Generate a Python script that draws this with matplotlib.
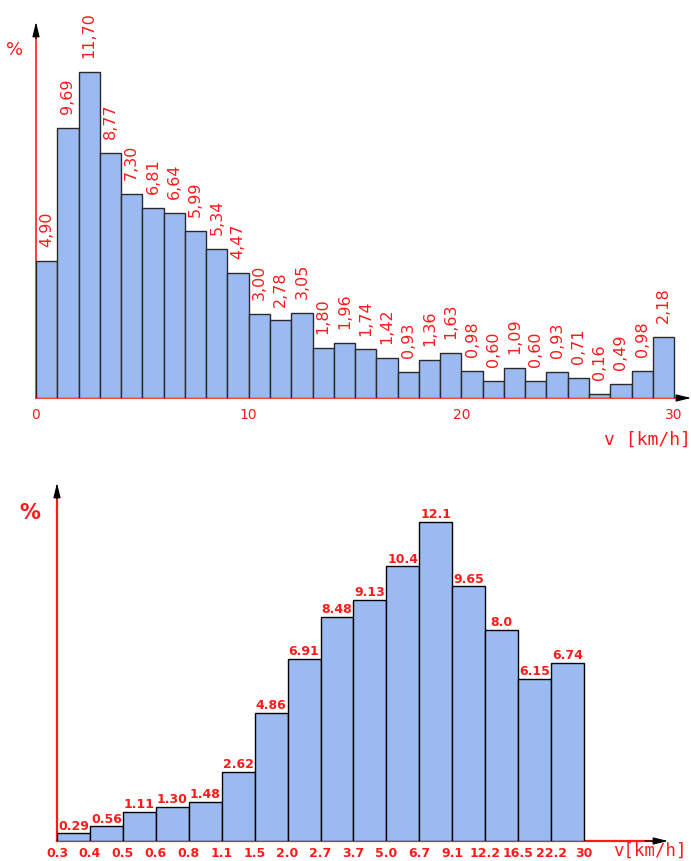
import matplotlib
matplotlib.use("Agg")
import matplotlib.pyplot as plt

# top histogram: 1 km/h bins from 0 to 30
top_edges = list(range(0, 31))
top_values = [4.90, 9.69, 11.70, 8.77, 7.30, 6.81, 6.64, 5.99, 5.34, 4.47,
              3.00, 2.78, 3.05, 1.80, 1.96, 1.74, 1.42, 0.93, 1.36, 1.63,
              0.98, 0.60, 1.09, 0.60, 0.93, 0.71, 0.16, 0.49, 0.98, 2.18]
top_ticks = [0, 10, 20, 30]

# bottom histogram: log-like classes, drawn with equal widths
bottom_edges = ["0.3", "0.4", "0.5", "0.6", "0.8", "1.1", "1.5", "2.0", "2.7",
                "3.7", "5.0", "6.7", "9.1", "12.2", "16.5", "22.2", "30"]
bottom_labels = ["0.29", "0.56", "1.11", "1.30", "1.48", "2.62", "4.86", "6.91",
                 "8.48", "9.13", "10.4", "12.1", "9.65", "8.0", "6.15", "6.74"]
bottom_values = [float(s) for s in bottom_labels]

BAR = "#9cbaf2"
RED = "#ff1a1a"
W, H = 691, 861

fig = plt.figure(figsize=(W / 100, H / 100), dpi=100)
fig.patch.set_facecolor("white")


def px_axes(left, top, right, bottom):
    """axes from pixel box (origin top-left)"""
    return fig.add_axes([left / W, (H - bottom) / H, (right - left) / W, (bottom - top) / H])


def arrow_head(ax, x0, y0, x1, y1):
    ax.annotate("", xy=(x1, y1), xytext=(x0, y0),
                arrowprops=dict(arrowstyle="-|>,head_length=0.9,head_width=0.22",
                                color="black", lw=0.8, shrinkA=0, shrinkB=0),
                annotation_clip=False)


# ---------------- top chart ----------------
ax1 = px_axes(36, 5, 691, 398)
ux1, uy1 = 21.27, 27.9
ax1.set_xlim(0, 655 / ux1)
ax1.set_ylim(0, 393 / uy1)
for s in ax1.spines.values():
    s.set_visible(False)

xmax1 = 655 / ux1
ytop1 = (398 - 22) / uy1
ax1.plot([0, xmax1 - 0.2], [0, 0], color=RED, lw=1.2, clip_on=False, zorder=1)
ax1.plot([0, 0], [0, ytop1 - 0.4], color=RED, lw=1.2, clip_on=False, zorder=1)
arrow_head(ax1, 0, ytop1 - 0.6, 0, ytop1)
arrow_head(ax1, xmax1 - 0.4, 0, xmax1, 0)

ax1.bar(top_edges[:-1], top_values, width=1, align="edge", color=BAR,
        edgecolor="#2a2a2a", linewidth=1.0, zorder=2)
for x, v in zip(top_edges[:-1], top_values):
    ax1.annotate(f"{v:.2f}".replace(".", ","), (x + 0.5, v), xytext=(0, 10),
                 textcoords="offset points", rotation=90, ha="center", va="bottom",
                 color=RED, fontsize=11.5, family="DejaVu Sans")

ax1.set_yticks([])
ax1.set_xticks(top_ticks)
ax1.set_xticklabels([str(t) for t in top_ticks], color=RED, fontsize=10)
ax1.tick_params(axis="x", length=0, pad=7)
ax1.text(-1.0, (398 - 50) / uy1, "%", color=RED, fontsize=13, ha="center", va="center")
ax1.text(xmax1, -42 / uy1, "v [km/h]", color=RED, fontsize=13,
         family="DejaVu Sans Mono", ha="right", va="center")

# ---------------- bottom chart ----------------
ax2 = px_axes(57, 470, 691, 841)
ux2, uy2 = 32.94, 26.4
ax2.set_xlim(0, 634 / ux2)
ax2.set_ylim(0, 371 / uy2)
for s in ax2.spines.values():
    s.set_visible(False)

xmax2 = (668 - 57) / ux2
ytop2 = (841 - 483) / uy2
ax2.plot([0, xmax2 - 0.3], [0, 0], color=RED, lw=1.6, clip_on=False, zorder=1)
ax2.plot([0, 0], [0, ytop2 - 0.4], color=RED, lw=1.6, clip_on=False, zorder=1)
arrow_head(ax2, 0, ytop2 - 0.6, 0, ytop2)
arrow_head(ax2, xmax2 - 0.7, 0, xmax2, 0)

n = len(bottom_values)
ax2.bar(range(n), bottom_values, width=1, align="edge", color=BAR,
        edgecolor="black", linewidth=1.0, zorder=2)
for i, (v, lab) in enumerate(zip(bottom_values, bottom_labels)):
    ax2.annotate(lab, (i + 0.5, v), xytext=(0, 0.5), textcoords="offset points",
                 ha="center", va="bottom", color=RED, fontsize=9, fontweight="bold")

ax2.set_yticks([])
ax2.set_xticks(range(len(bottom_edges)))
ax2.set_xticklabels(bottom_edges, color=RED, fontsize=9, fontweight="bold")
ax2.tick_params(axis="x", length=0, pad=4)
ax2.text(-27 / ux2, (841 - 513) / uy2, "%", color=RED, fontsize=15,
         fontweight="bold", ha="center", va="center")
ax2.text((687 - 57) / ux2, -19 / uy2, "v[km/h]", color=RED, fontsize=12.5,
         family="DejaVu Sans Mono", ha="right", va="bottom")

fig.savefig("out.png", dpi=100)
